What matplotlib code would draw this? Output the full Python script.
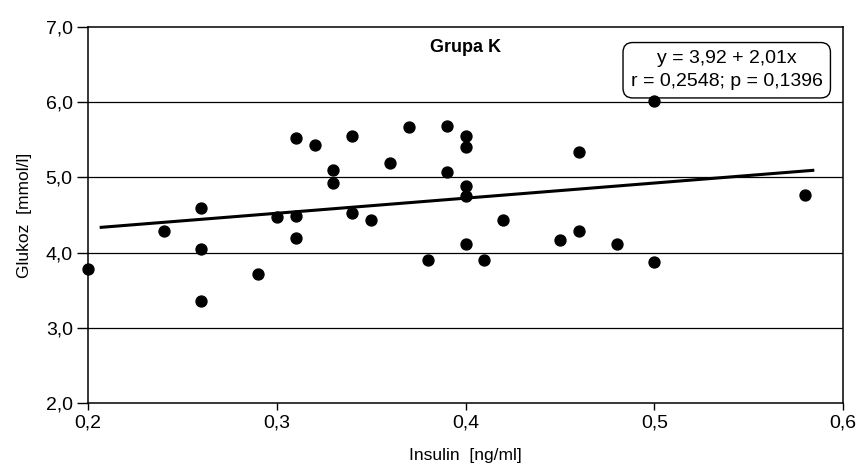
import matplotlib
matplotlib.use("Agg")
import matplotlib.pyplot as plt

# insulin [ng/ml] vs glucose [mmol/l], group K
insulin = [0.20, 0.24, 0.26, 0.26, 0.26, 0.29, 0.30, 0.31, 0.31, 0.31,
           0.32, 0.33, 0.33, 0.34, 0.34, 0.35, 0.36, 0.37, 0.38, 0.39,
           0.39, 0.40, 0.40, 0.40, 0.40, 0.40, 0.41, 0.42, 0.45, 0.46,
           0.46, 0.48, 0.50, 0.50, 0.58]
glucose = [3.78, 4.29, 4.59, 4.05, 3.36, 3.72, 4.47, 4.49, 4.20, 5.52,
           5.43, 5.10, 4.92, 5.55, 4.53, 4.43, 5.19, 5.67, 3.90, 5.69,
           5.07, 5.55, 5.40, 4.89, 4.75, 4.11, 3.90, 4.44, 4.17, 4.29,
           5.34, 4.12, 6.02, 3.87, 4.76]

intercept = 3.92
slope = 2.01
fit_x = [0.207, 0.584]

x_ticks = [0.2, 0.3, 0.4, 0.5, 0.6]
y_ticks = [2.0, 3.0, 4.0, 5.0, 6.0, 7.0]

plt.rcParams['font.family'] = ['Liberation Sans Narrow', 'Liberation Sans', 'DejaVu Sans']

fig = plt.figure(figsize=(8.56, 4.66), dpi=100)
ax = fig.add_axes([88 / 856, 1 - 403 / 466, 755 / 856, 376 / 466])

for yv in y_ticks[1:-1]:
    ax.axhline(yv, color='black', lw=0.9, zorder=1)

fit_y = [intercept + slope * v for v in fit_x]
ax.plot(fit_x, fit_y, color='black', lw=2.2, zorder=2)
ax.scatter(insulin, glucose, s=62, color='black', zorder=4, clip_on=False)

ax.set_xlim(0.2, 0.6)
ax.set_ylim(2.0, 7.0)
ax.set_xticks(x_ticks)
ax.set_yticks(y_ticks)
ax.set_xticklabels([f"{v:.1f}".replace('.', ',') for v in x_ticks], fontsize=14)
ax.set_yticklabels([f"{v:.1f}".replace('.', ',') for v in y_ticks], fontsize=14)
ax.tick_params(axis='y', direction='out', length=8, width=1, pad=3)
ax.tick_params(axis='x', direction='out', length=5, width=1, pad=3)
for sp in ax.spines.values():
    sp.set_color('black')
    sp.set_linewidth(1.1)

ax.set_xlabel('Insulin  [ng/ml]', fontsize=12.5, labelpad=12)
ax.set_ylabel('Glukoz  [mmol/l]', fontsize=12.5, labelpad=10)

ax.text(0.5, 0.945, 'Grupa K', transform=ax.transAxes, ha='center', va='center',
        fontsize=13, fontweight='bold')
ax.text(0.846, 0.885, 'y = 3,92 + 2,01x\nr = 0,2548; p = 0,1396', transform=ax.transAxes,
        ha='center', va='center', fontsize=14, linespacing=1.45, zorder=3,
        bbox=dict(boxstyle='round,pad=0.4,rounding_size=0.5', fc='white', ec='black', lw=1))

fig.savefig('out.png', dpi=100)
